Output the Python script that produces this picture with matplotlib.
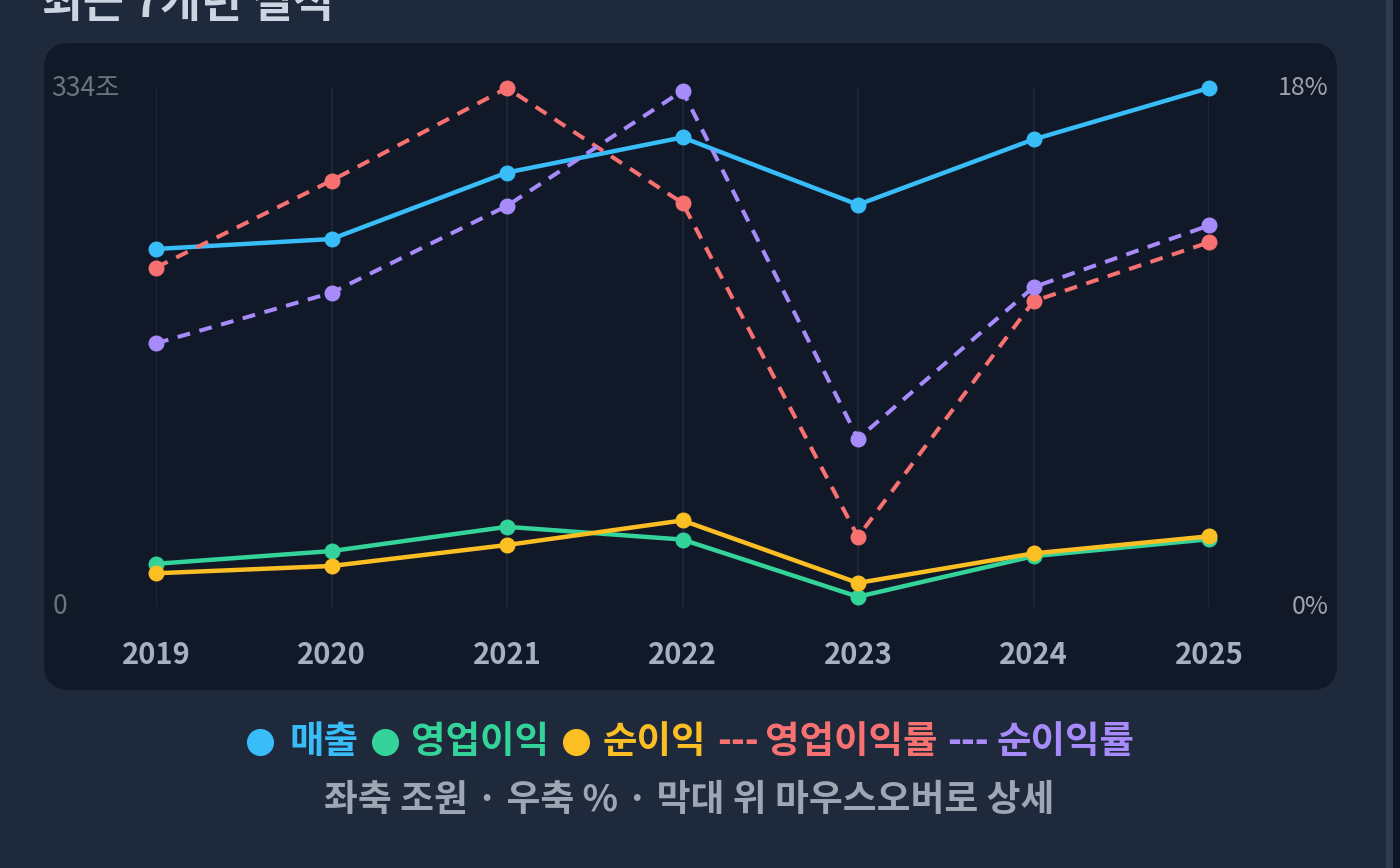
import matplotlib
matplotlib.use("Agg")
import matplotlib.pyplot as plt
from matplotlib.patches import FancyBboxPatch, Rectangle
from matplotlib.lines import Line2D
from matplotlib.transforms import blended_transform_factory

plt.rcParams['font.family'] = ['Noto Sans CJK KR', 'DejaVu Sans']

# data (조원 / %)
years = ['2019', '2020', '2021', '2022', '2023', '2024', '2025']
revenue = [230.4, 236.8, 279.6, 302.2, 258.9, 300.9, 334.0]
op_profit = [27.8, 36.0, 51.6, 43.4, 6.6, 32.7, 43.6]
net_income = [21.7, 26.4, 39.9, 55.7, 15.5, 34.5, 45.5]
op_margin = [12.1, 15.2, 18.5, 14.4, 2.5, 10.9, 13.0]
net_margin = [9.4, 11.2, 14.3, 18.4, 6.0, 11.4, 13.6]

C_REV = '#38bdf8'
C_OP = '#34d399'
C_NET = '#fbbf24'
C_OPM = '#f87171'
C_NETM = '#a78bfa'

W, H = 1400, 868
fig = plt.figure(figsize=(W / 100, H / 100), dpi=100)
fig.patch.set_facecolor('#1e293b')

# background layer in pixel coords
bg = fig.add_axes([0, 0, 1, 1])
bg.set_xlim(0, W)
bg.set_ylim(H, 0)
bg.axis('off')
bg.add_patch(FancyBboxPatch((44, 43), 1337 - 44, 690 - 43,
                            boxstyle='round,pad=0,rounding_size=26',
                            facecolor='#111827', edgecolor='none'))
bg.add_patch(Rectangle((1386, 0), 7, H, facecolor='#2f3b4d', edgecolor='none'))
bg.add_patch(Rectangle((1393, 0), 7, H, facecolor='#0e1527', edgecolor='none'))

# title sits partly above the top edge, as in the original screenshot
bg.text(42, 17, '최근 7개년 실적', fontsize=32, fontweight='bold', color='#cbd5e1',
        ha='left', va='baseline')

# main chart
ax = fig.add_axes([156 / W, 1 - 607 / H, (1209 - 156) / W, 519 / H])
ax.set_facecolor('none')
x = list(range(len(years)))
ymax_l = max(revenue)
ymax_r = max(op_margin + net_margin)
ax.set_xlim(0, len(years) - 1)
ax.set_ylim(0, ymax_l)
for s in ax.spines.values():
    s.set_visible(False)
ax.set_xticks([])
ax.set_yticks([])
ax.vlines(x, 0, ymax_l, color='#1f2937', lw=1.2, zorder=0)

ax.plot(x, revenue, color=C_REV, lw=3.2, marker='o', ms=10.5, clip_on=False, zorder=3)
ax.plot(x, op_profit, color=C_OP, lw=3.2, marker='o', ms=10.5, clip_on=False, zorder=3)
ax.plot(x, net_income, color=C_NET, lw=3.2, marker='o', ms=10.5, clip_on=False, zorder=3)

ax2 = ax.twinx()
ax2.set_ylim(0, ymax_r)
for s in ax2.spines.values():
    s.set_visible(False)
ax2.set_yticks([])
ax2.plot(x, op_margin, color=C_OPM, lw=2.9, ls=(0, (3.2, 2.4)), marker='o', ms=10.5,
         clip_on=False, zorder=3)
ax2.plot(x, net_margin, color=C_NETM, lw=2.9, ls=(0, (3.2, 2.4)), marker='o', ms=10.5,
         clip_on=False, zorder=3)

# x labels
tx = blended_transform_factory(ax.transData, bg.transData)
for i, yr in enumerate(years):
    ax.text(i, 664, yr, transform=tx, ha='center', va='baseline', fontsize=21,
            fontweight='bold', color='#a7b0bf')

# axis end labels
tl = blended_transform_factory(bg.transData, ax.transData)
ax.text(51, ymax_l, f'{ymax_l:.0f}조', transform=tl, ha='left', va='center',
        fontsize=19, color='#6b7280')
ax.text(53, 0, '0', transform=tl, ha='left', va='center', fontsize=19, color='#6b7280')
tr = blended_transform_factory(bg.transData, ax2.transData)
ax2.text(1329, ymax_r, f'{ymax_r:.0f}%', transform=tr, ha='right', va='center',
         fontsize=18, color='#9ca3af')
ax2.text(1329, 0, '0%', transform=tr, ha='right', va='center', fontsize=18,
         color='#9ca3af')

# legend
ly = 742
for cx, col in [(260, C_REV), (385, C_OP), (576, C_NET)]:
    bg.add_line(Line2D([cx], [ly], marker='o', ms=18.5, color=col, lw=0))
leg = [(289, '매출', C_REV), (411, '영업이익', C_OP), (603, '순이익', C_NET),
       (717, '---', C_OPM), (765, '영업이익률', C_OPM),
       (947, '---', C_NETM), (996, '순이익률', C_NETM)]
for lx, s, col in leg:
    bg.text(lx, ly, s, ha='left', va='center', fontsize=27, fontweight='bold', color=col)

bg.text(689, 800, '좌축 조원 · 우축 % · 막대 위 마우스오버로 상세', ha='center', va='center',
        fontsize=26.5, fontweight='bold', color='#9ea6b3')

fig.savefig('out.png', dpi=100, facecolor=fig.get_facecolor())
